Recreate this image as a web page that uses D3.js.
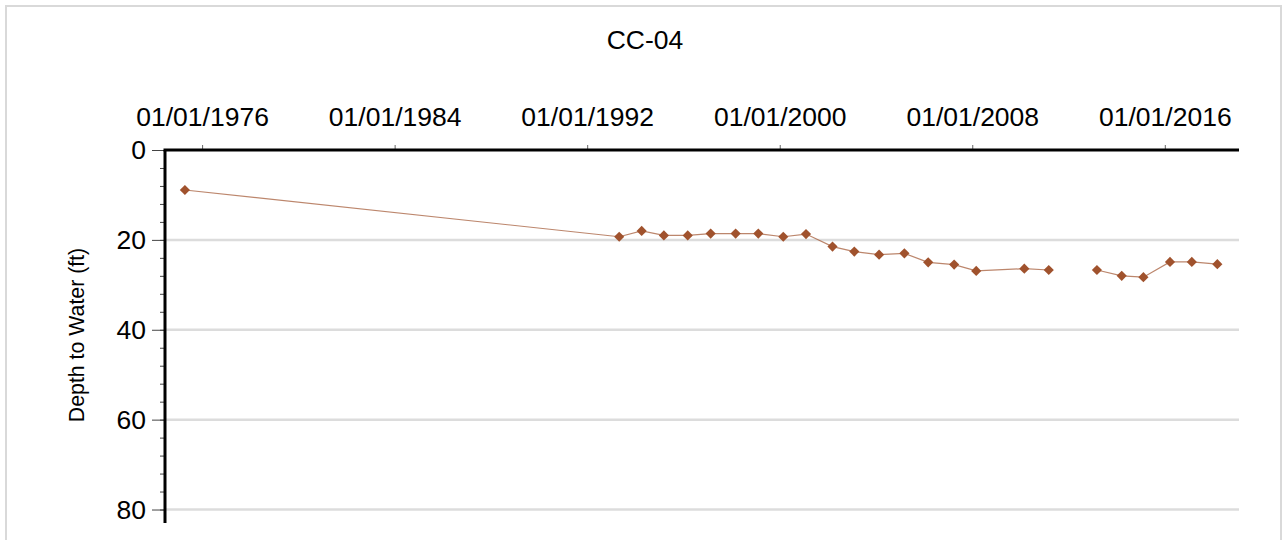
<!DOCTYPE html>
<html>
<head>
<meta charset="utf-8">
<script src="https://cdn.jsdelivr.net/npm/d3@7"></script>
<style>
  body { margin: 0; background: #fff; }
  text { font-family: "Liberation Sans", Arial, sans-serif; fill: #000; }
</style>
</head>
<body>
<div id="chart"></div>
<script>
// chart data
var title = "CC-04";
var yLabel = "Depth to Water (ft)";
var dates = ["1975-04-15","1993-05-01","1994-04-07","1995-03-10","1996-03-06","1997-02-17",
             "1998-03-03","1999-02-10","2000-02-24","2001-02-03","2002-03-12","2003-02-06",
             "2004-02-17","2005-03-07","2006-03-03","2007-04-01","2008-03-01","2010-03-01",
             "2011-03-07","2012-03-01","2013-03-07","2014-03-18","2015-02-10","2016-03-20",
             "2017-02-14","2018-03-08"];
var depths = [8.9,19.3,18.0,19.0,19.0,18.6,18.6,18.6,19.3,18.7,21.5,22.6,23.3,23.0,25.0,25.5,
              26.9,26.4,26.7,null,26.7,28.0,28.3,24.9,24.9,25.4];
var xDomain = ["1974-06-17","2019-01-31"];
var xTicks = ["1976-01-01","1984-01-01","1992-01-01","2000-01-01","2008-01-01","2016-01-01"];
var yDomain = [0, 83];
var yTicks = [0, 20, 40, 60, 80];
var yMinorTicks = d3.range(0, 84, 4);

var w = 1283;
var h = 540;
var margin = {left: 165, top: 150, right: 44};
var plotBottom = 523;
var parse = d3.timeParse("%Y-%m-%d");

var data = dates.map(function(d, i) { return {date: parse(d), depth: depths[i]}; });

var svg = d3.select("#chart")
  .append("svg")
  .attr("width", w)
  .attr("height", h);

// frame round the whole chart
svg.append("rect")
  .attr("x", 6).attr("y", 6)
  .attr("width", 1275).attr("height", 560)
  .attr("fill", "none")
  .attr("stroke", "#d9d9d9")
  .attr("stroke-width", 2);

var x = d3.scaleTime()
  .domain(xDomain.map(parse))
  .range([margin.left, w - margin.right]);

var y = d3.scaleLinear()
  .domain(yDomain)
  .range([margin.top, plotBottom]);

// horizontal gridlines
svg.selectAll(".grid")
  .data(yTicks.filter(function(d) { return d > 0; }))
  .enter()
  .append("line")
  .attr("class", "grid")
  .attr("x1", x.range()[0])
  .attr("x2", x.range()[1])
  .attr("y1", function(d) { return y(d); })
  .attr("y2", function(d) { return y(d); })
  .attr("stroke", "#dcdcdc")
  .attr("stroke-width", 2.5);

// top date axis
var xAxis = svg.append("g")
  .attr("transform", "translate(0," + margin.top + ")")
  .call(d3.axisTop(x)
    .tickValues(xTicks.map(parse))
    .tickFormat(d3.timeFormat("%m/%d/%Y"))
    .tickSize(5)
    .tickPadding(19));
xAxis.select(".domain").remove();
xAxis.selectAll("line").attr("stroke", "#666").attr("stroke-width", 1);
xAxis.selectAll("text")
  .attr("font-size", "26.5px")
  .attr("font-family", "Liberation Sans, Arial, sans-serif")
  .attr("fill", "#000");

// left minor ticks
var yMinor = svg.append("g")
  .attr("transform", "translate(" + margin.left + ",0)")
  .call(d3.axisLeft(y).tickValues(yMinorTicks).tickSize(5).tickFormat(""));
yMinor.select(".domain").remove();
yMinor.selectAll("line").attr("stroke", "#444").attr("stroke-width", 1);

// left depth axis
var yAxis = svg.append("g")
  .attr("transform", "translate(" + margin.left + ",0)")
  .call(d3.axisLeft(y).tickValues(yTicks).tickSize(13).tickPadding(6));
yAxis.select(".domain").remove();
yAxis.selectAll("line").attr("stroke", "#444").attr("stroke-width", 1);
yAxis.selectAll("text")
  .attr("font-size", "26.5px")
  .attr("font-family", "Liberation Sans, Arial, sans-serif")
  .attr("fill", "#000");

// heavy axis lines
svg.append("line")
  .attr("x1", x.range()[0] - 1.5).attr("x2", x.range()[1])
  .attr("y1", margin.top).attr("y2", margin.top)
  .attr("stroke", "#000").attr("stroke-width", 3);
svg.append("line")
  .attr("x1", margin.left).attr("x2", margin.left)
  .attr("y1", margin.top).attr("y2", plotBottom)
  .attr("stroke", "#000").attr("stroke-width", 3);

// series line, broken where a reading is missing
var line = d3.line()
  .defined(function(d) { return d.depth != null; })
  .x(function(d) { return x(d.date); })
  .y(function(d) { return y(d.depth); });

svg.append("path")
  .datum(data)
  .attr("d", line)
  .attr("fill", "none")
  .attr("stroke", "#a0522d")
  .attr("stroke-opacity", 0.7)
  .attr("stroke-width", 1.2);

svg.selectAll(".points")
  .data(data.filter(function(d) { return d.depth != null; }))
  .enter()
  .append("path")
  .attr("class", "points")
  .attr("d", d3.symbol().type(d3.symbolDiamond2).size(66))
  .attr("transform", function(d) { return "translate(" + x(d.date) + "," + y(d.depth) + ")"; })
  .attr("fill", "#a0522d");

// title and axis label
svg.append("text")
  .attr("x", 645)
  .attr("y", 49)
  .attr("text-anchor", "middle")
  .attr("font-size", "26.5px")
  .text(title);

svg.append("text")
  .attr("transform", "translate(84,335) rotate(-90)")
  .attr("text-anchor", "middle")
  .attr("font-size", "21.3px")
  .text(yLabel);
</script>
</body>
</html>
